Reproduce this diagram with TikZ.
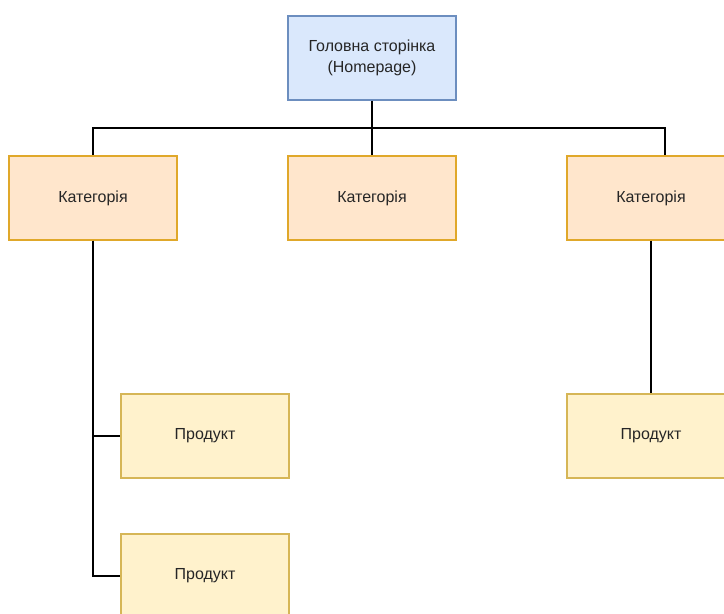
\documentclass[tikz,border=0pt]{standalone}
\usepackage{fontspec}
\setmainfont{Liberation Sans}
\begin{document}
\begin{tikzpicture}[x=1pt,y=-1pt,
  box/.style={draw, line width=1.3pt, minimum width=168pt, minimum height=84pt, inner sep=0pt,
    align=center, font=\fontsize{16}{21}\selectfont, text=black!85},
  homebox/.style={box, fill=blueFill, draw=blueLine},
  catbox/.style={box, fill=catFill, draw=catLine},
  prodbox/.style={box, fill=prodFill, draw=prodLine},
  conn/.style={draw=black, line width=1.3pt}]
\definecolor{blueFill}{HTML}{DAE8FC}
\definecolor{blueLine}{HTML}{6C8EBF}
\definecolor{catFill}{HTML}{FFE6CC}
\definecolor{catLine}{HTML}{E0A82A}
\definecolor{prodFill}{HTML}{FFF2CC}
\definecolor{prodLine}{HTML}{D6B656}
\useasboundingbox (0,0) rectangle (724,614);
\clip (0,0) rectangle (724,614);
\node[homebox] (home) at (372,58) {Головна сторінка\\(Homepage)};
\node[catbox] (c1) at (93,198) {Категорія};
\node[catbox] (c2) at (372,198) {Категорія};
\node[catbox] (c3) at (651,198) {Категорія};
\node[prodbox] (p1) at (205,436) {Продукт};
\node[prodbox] (p2) at (205,576) {Продукт};
\node[prodbox] (p3) at (651,436) {Продукт};
\coordinate (bus) at (372,128);
\coordinate (c3top) at ([xshift=14pt]c3.north);
\draw[conn] (home.south) -- (bus);
\draw[conn] (bus) -| (c1.north);
\draw[conn] (bus) -- (c2.north);
\draw[conn] (bus) -| (c3top);
\draw[conn] (c1.south) |- (p1.west);
\draw[conn] (c1.south) |- (p2.west);
\draw[conn] (c3.south) -- (p3.north);
\end{tikzpicture}
\end{document}
